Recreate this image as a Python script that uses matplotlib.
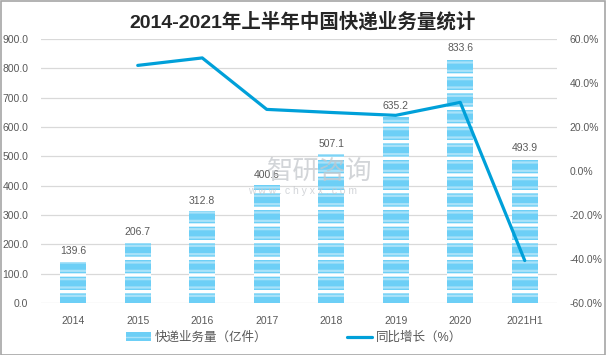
import numpy as np
import matplotlib
matplotlib.use("Agg")
import matplotlib.pyplot as plt
from matplotlib.patches import Rectangle

plt.rcParams['font.family'] = ['Liberation Sans', 'Noto Sans CJK SC', 'DejaVu Sans']

categories = ["2014", "2015", "2016", "2017", "2018", "2019", "2020", "2021H1"]
volume = [139.6, 206.7, 312.8, 400.6, 507.1, 635.2, 833.6, 493.9]
growth = [np.nan, 48.0, 51.4, 28.0, 26.6, 25.3, 31.2, -40.7]
left_ticks = [0, 100, 200, 300, 400, 500, 600, 700, 800, 900]
right_ticks = [-60, -40, -20, 0, 20, 40, 60]

title = "2014-2021年上半年中国快递业务量统计"
bar_label = "快递业务量（亿件）"
line_label = "同比增长（%）"

BAR_BLUE = "#6dcff6"
LIGHT = "#a9e2f9"
LINE_BLUE = "#00a0d9"
TXT = "#595959"

fig = plt.figure(figsize=(6.06, 3.55), dpi=100)
ax = fig.add_axes([41/606, 1-303/355, (557-41)/606, (303-39)/355])
x = np.arange(len(categories))

bars = ax.bar(x, volume, width=0.4, color=BAR_BLUE, edgecolor=LIGHT, linewidth=0,
              hatch='--', zorder=2, label=bar_label)
over = ax.bar(x, volume, width=0.4, color='none', edgecolor='white', linewidth=0,
              hatch='-', zorder=3)
for p in bars:
    try:
        p.set_hatch_linewidth(1.6)
    except Exception:
        pass
for p in over:
    try:
        p.set_hatch_linewidth(2.4)
    except Exception:
        pass

for xi, v in zip(x, volume):
    ax.annotate(f"{v:.1f}", (xi, v), xytext=(0, 4), textcoords='offset points',
                ha='center', va='bottom', fontsize=7.5, color=TXT, zorder=5)

ax.set_xlim(-0.5, len(categories) - 0.5)
ax.set_ylim(0, 900)
ax.set_yticks(left_ticks)
ax.set_yticklabels([f"{t:.1f}" for t in left_ticks])
ax.set_xticks(x)
ax.set_xticklabels(categories)
ax.grid(axis='y', color='#d9d9d9', linewidth=0.9, zorder=0)
ax.set_axisbelow(True)
for s in ax.spines.values():
    s.set_visible(False)
ax.tick_params(axis='both', length=0, labelsize=7.5, labelcolor=TXT)
ax.tick_params(axis='y', pad=9)
ax.tick_params(axis='x', pad=9)

ax2 = ax.twinx()
line, = ax2.plot(x, growth, color=LINE_BLUE, linewidth=2.3, zorder=6,
                 solid_capstyle='round', label=line_label)
ax2.set_ylim(-60, 60)
ax2.set_yticks(right_ticks)
ax2.set_yticklabels([f"{t:.1f}%" for t in right_ticks])
for s in ax2.spines.values():
    s.set_visible(False)
ax2.tick_params(axis='y', length=0, labelsize=7.5, labelcolor=TXT, pad=9)

# watermark
fig.text(0.528, 0.518, "智研咨询", fontsize=19, color='#c4c7cc', ha='center', va='center',
         fontfamily=['Noto Sans CJK SC'], alpha=0.75, zorder=0)
fig.text(0.499, 0.462, "w w w . c h y x x . c o m", fontsize=7.5, color='#c4c7cc',
         ha='center', va='center', alpha=0.75)

fig.suptitle(title, x=0.5, y=0.965, fontsize=14, fontweight='bold', color='#262626',
             fontfamily=['Liberation Sans', 'Noto Sans CJK SC'])

leg = fig.legend(handles=[bars, line], labels=[bar_label, line_label], loc='center',
                 bbox_to_anchor=(0.485, 0.048), ncol=2, frameon=False, fontsize=9,
                 handlelength=2.0, columnspacing=6.4, handletextpad=0.3)
for t in leg.get_texts():
    t.set_color(TXT)

fig.patches.append(Rectangle((0.001, 0.001), 0.997, 0.996, transform=fig.transFigure,
                             fill=False, edgecolor='#a6a6a6', linewidth=1.2))

fig.savefig("out.png", dpi=100)
